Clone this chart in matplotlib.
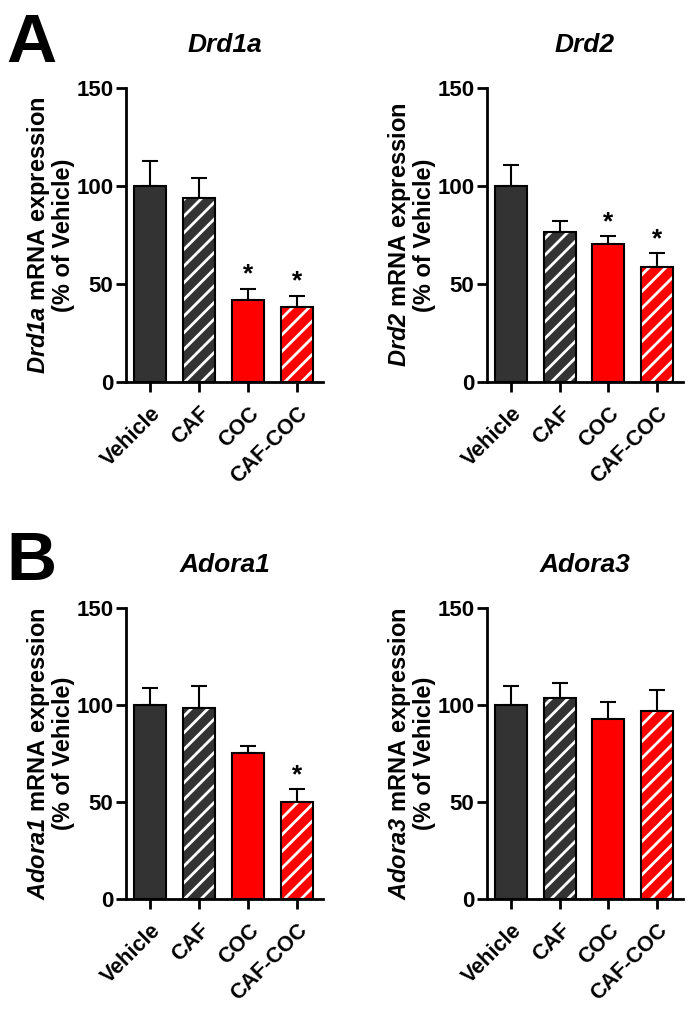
import matplotlib.pyplot as plt
import numpy as np

plt.rcParams['font.family'] = ['Liberation Sans', 'DejaVu Sans']
plt.rcParams['font.weight'] = 'bold'
plt.rcParams['mathtext.fontset'] = 'custom'
plt.rcParams['mathtext.bf'] = 'Liberation Sans:italic:bold'
plt.rcParams['mathtext.rm'] = 'Liberation Sans:bold'
plt.rcParams['hatch.linewidth'] = 2.0

#~~~Data~~~
groups = ['Vehicle', 'CAF', 'COC', 'CAF-COC']
genes = ['Drd1a', 'Drd2', 'Adora1', 'Adora3']

drd1a_mean = [100, 94, 41.8, 38.1]
drd1a_err = [13, 10, 5.8, 5.9]
drd1a_sig = [False, False, True, True]

drd2_mean = [100, 76.6, 70.3, 58.5]
drd2_err = [10.9, 5.6, 4.1, 7.1]
drd2_sig = [False, False, True, True]

adora1_mean = [100, 98.5, 75.2, 50.1]
adora1_err = [9, 11.3, 3.7, 6.7]
adora1_sig = [False, False, False, True]

adora3_mean = [100, 103.7, 92.9, 96.8]
adora3_err = [9.7, 7.4, 8.7, 10.8]
adora3_sig = [False, False, False, False]

means = [drd1a_mean, drd2_mean, adora1_mean, adora3_mean]
errs = [drd1a_err, drd2_err, adora1_err, adora3_err]
sigs = [drd1a_sig, drd2_sig, adora1_sig, adora3_sig]

colors = ['#333333', '#333333', '#ff0000', '#ff0000']
hatched = [False, True, False, True]

#~~~Layout (pixel boxes of each axes)~~~
W, H = 696, 1013
boxes = [(126, 88, 323, 382), (487, 88, 683, 382),
         (126, 608, 323, 899), (487, 608, 683, 899)]

fig = plt.figure(figsize=(6.96, 10.13), dpi=100)

for k in range(4):
    x0, y0, x1, y1 = boxes[k]
    ax = fig.add_axes([x0 / W, 1 - y1 / H, (x1 - x0) / W, (y1 - y0) / H])
    x = np.arange(len(groups))
    m = means[k]
    e = errs[k]
    # upper error bars only, drawn under the bars
    ax.errorbar(x, m, yerr=[np.zeros(4), e], fmt='none', ecolor='black',
                elinewidth=1.5, capsize=5.5, capthick=1.5, zorder=1)
    for i in range(4):
        if hatched[i]:
            ax.bar(x[i], m[i], width=0.66, color=colors[i], edgecolor='white',
                   hatch='//', linewidth=0, zorder=2)
            ax.bar(x[i], m[i], width=0.66, fill=False, edgecolor='black',
                   linewidth=1.5, zorder=3)
        else:
            ax.bar(x[i], m[i], width=0.66, color=colors[i], edgecolor='black',
                   linewidth=1.5, zorder=2)
        if sigs[k][i]:
            ax.text(x[i], m[i] + e[i] + 1, '*', ha='center', va='bottom',
                    fontsize=19, fontweight='bold')
    ax.set_xlim(-0.49, 3.53)
    ax.set_ylim(0, 150)
    ax.set_yticks([0, 50, 100, 150])
    ax.set_xticks(x)
    ax.set_xticklabels(groups, rotation=45, ha='right', rotation_mode='anchor',
                       fontsize=15.5, fontweight='bold')
    ax.tick_params(axis='y', labelsize=16, width=2, length=7, pad=2)
    ax.tick_params(axis='x', width=2, length=7, pad=8)
    for lab in ax.get_yticklabels():
        lab.set_fontweight('bold')
    ax.spines['top'].set_visible(False)
    ax.spines['right'].set_visible(False)
    ax.spines['left'].set_linewidth(2)
    ax.spines['bottom'].set_linewidth(2)
    ax.set_title(genes[k], fontsize=19, fontweight='bold', style='italic', pad=26)
    ax.set_ylabel(r'$\mathbf{' + genes[k] + '}$ mRNA expression\n(% of Vehicle)',
                  fontsize=17, fontweight='bold', labelpad=1, linespacing=1.0)

fig.text(6 / W, 1 - 62 / H, 'A', fontsize=50, fontweight='bold')
fig.text(6 / W, 1 - 580 / H, 'B', fontsize=50, fontweight='bold')

fig.savefig('out.png', dpi=100)
